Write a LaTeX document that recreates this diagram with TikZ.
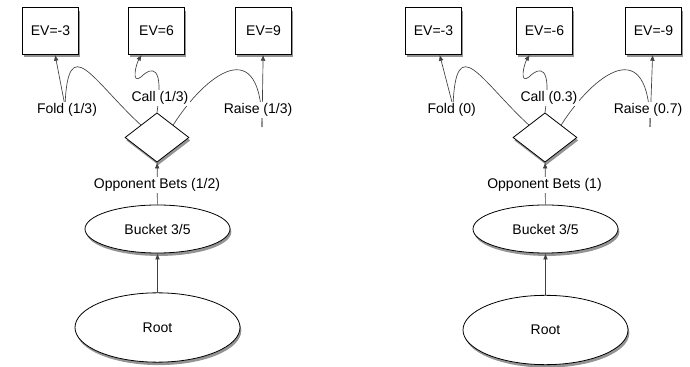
\documentclass[tikz,border=0pt]{standalone}
\usepackage{fontspec}
\setmainfont{Liberation Sans}
\usetikzlibrary{shapes.geometric,shadows,arrows.meta}
\pgfdeclarelayer{bg}
\pgfsetlayers{bg,main}
\begin{document}
\begin{tikzpicture}[x=0.75pt,y=-0.75pt,
  font=\fontsize{10.5}{12}\selectfont,
  shad/.style={drop shadow={shadow xshift=1pt,shadow yshift=-2.2pt,opacity=0.6,fill=black!70}},
  evbox/.style={draw=black,line width=0.6pt,fill=white,minimum width=42pt,minimum height=35pt,inner sep=0pt,shad},
  choice/.style={diamond,draw=black,line width=0.6pt,fill=white,minimum width=48pt,minimum height=37pt,inner sep=0pt,shad},
  oval/.style={ellipse,draw=black,line width=0.6pt,fill=white,inner sep=0pt,shad},
  lbl/.style={fill=white,inner sep=1pt},
  conn/.style={draw=black!75,line width=0.5pt},
  arr/.style={conn,-{Latex[length=4.5pt,width=3.5pt]}}]
\useasboundingbox (0,0) rectangle (690,367);

% ---------- left diagram ----------
\node[evbox] (ev1L) at (50.5,31) {EV=-3};
\node[evbox] (ev2L) at (156.5,31) {EV=6};
\node[evbox] (ev3L) at (263.5,31) {EV=9};
\node[choice] (dL) at (157,137.5) {};
\node[oval,minimum width=108.75pt,minimum height=36pt] (bucketL) at (157.5,229) {Bucket 3/5};
\node[oval,minimum width=123.75pt,minimum height=52pt] (rootL) at (157.5,327.5) {Root};
\node[lbl] (foldL) at (67,110) {Fold (1/3)};
\node[lbl] (callL) at (160,98) {Call (1/3)};
\node[lbl] (raiseL) at (258,110) {Raise (1/3)};
\node[lbl] (oppL) at (157,185) {Opponent Bets (1/2)};
\coordinate (fturnL) at (65,106);
\coordinate (cmidL) at (141,77);
\coordinate (rturnL) at (262,127);

% ---------- right diagram ----------
\node[evbox] (ev1R) at (433.5,31) {EV=-3};
\node[evbox] (ev2R) at (544.5,31) {EV=-6};
\node[evbox] (ev3R) at (653.5,31) {EV=-9};
\node[choice] (dR) at (545,137.5) {};
\node[oval,minimum width=108.75pt,minimum height=36pt] (bucketR) at (545.5,229) {Bucket 3/5};
\node[oval,minimum width=123.75pt,minimum height=52pt] (rootR) at (545.5,330) {Root};
\node[lbl] (foldR) at (451.7,110) {Fold (0)};
\node[lbl] (callR) at (549,98) {Call (0.3)};
\node[lbl] (raiseR) at (648,110) {Raise (0.7)};
\node[lbl] (oppR) at (544.5,185) {Opponent Bets (1)};
\coordinate (fturnR) at (453,106);
\coordinate (cmidR) at (529,77);
\coordinate (rturnR) at (650,127);

\begin{pgfonlayer}{bg}
  % left
  \draw[arr] (rootL) -- (bucketL);
  \draw[arr] (bucketL) -- (dL);
  \draw[conn] (dL.north west) .. controls (92,80) and (68,30) .. (fturnL);
  \draw[arr] (fturnL) -- (ev1L);
  \draw[conn] (dL.north) .. controls (164,65) and (152,66) .. (cmidL);
  \draw[arr] (cmidL) .. controls (131,85) and (136,64) .. (ev2L);
  \draw[conn] (dL.north east) .. controls (205,75) and (262,30) .. (rturnL);
  \draw[arr] (rturnL) -- (ev3L);
  % right
  \draw[arr] (rootR) -- (bucketR);
  \draw[arr] (bucketR) -- (dR);
  \draw[conn] (dR.north west) .. controls (480,80) and (456,30) .. (fturnR);
  \draw[arr] (fturnR) -- (ev1R);
  \draw[conn] (dR.north) .. controls (552,65) and (540,66) .. (cmidR);
  \draw[arr] (cmidR) .. controls (519,85) and (524,64) .. (ev2R);
  \draw[conn] (dR.north east) .. controls (593,75) and (650,30) .. (rturnR);
  \draw[arr] (rturnR) -- (ev3R);
\end{pgfonlayer}
\end{tikzpicture}
\end{document}
